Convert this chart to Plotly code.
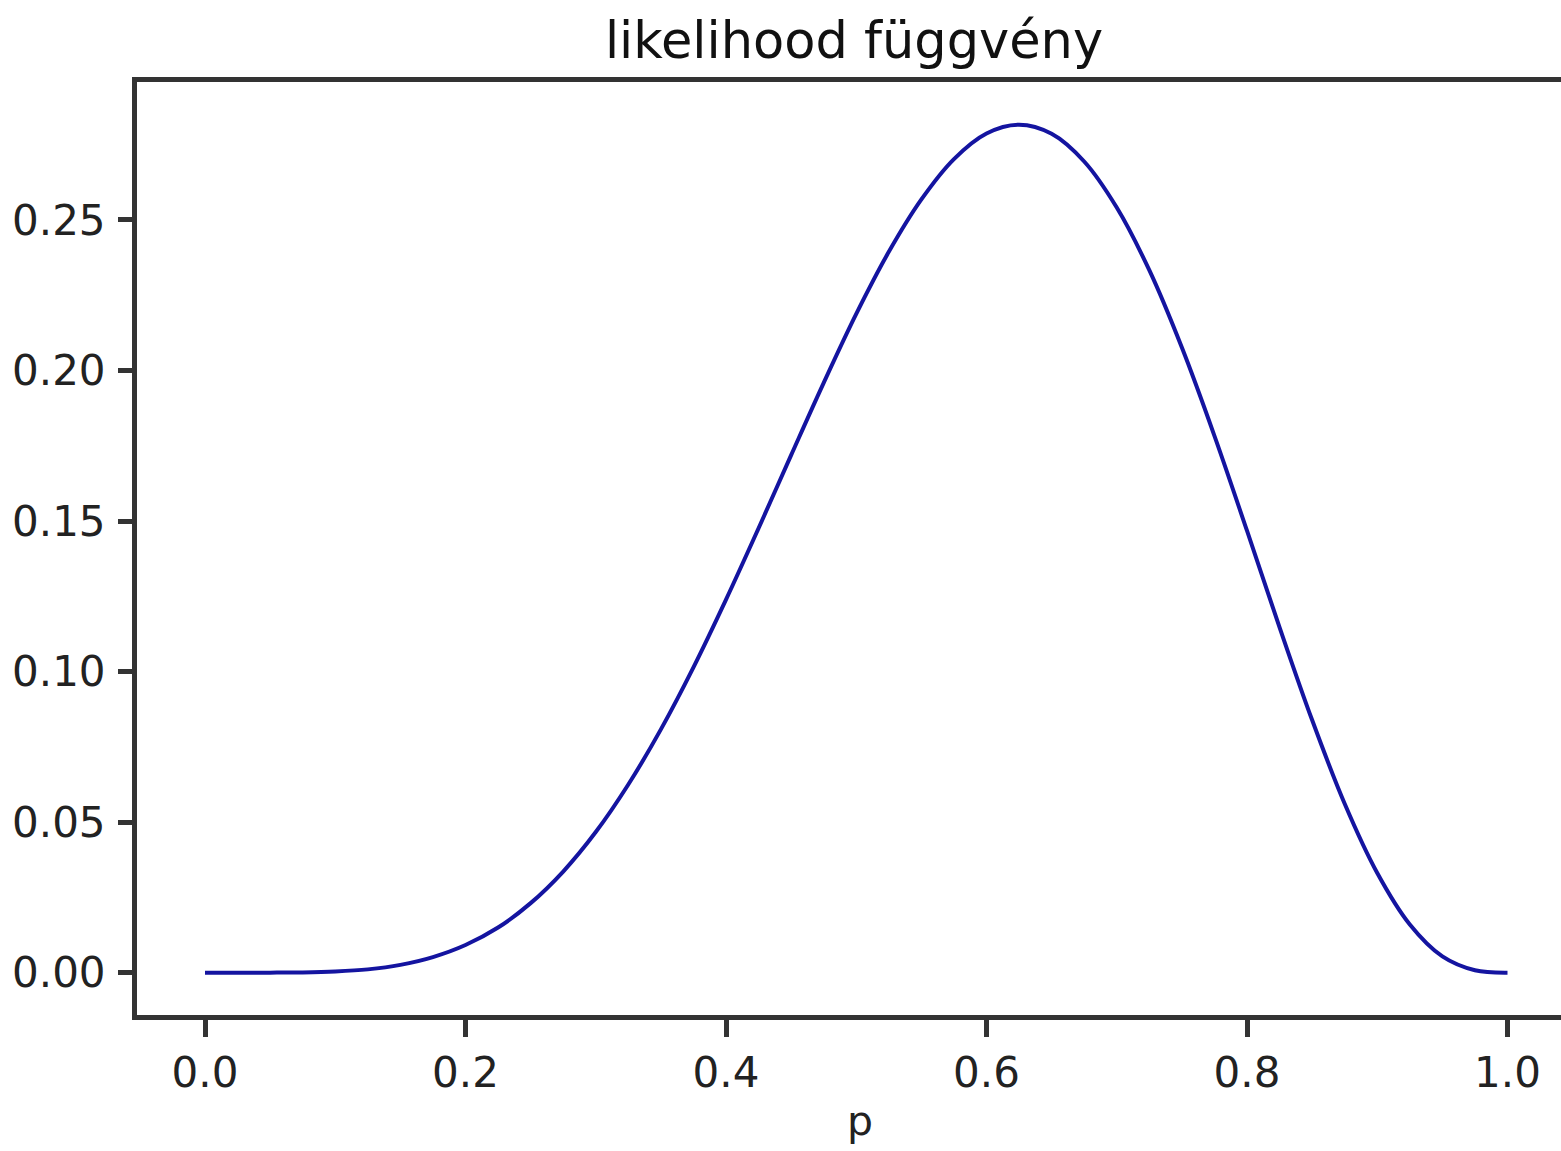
import plotly.graph_objects as go

p_values = [0.0, 0.025, 0.05, 0.075, 0.10, 0.125, 0.15, 0.175, 0.20, 0.225, 0.25,
            0.275, 0.30, 0.325, 0.35, 0.375, 0.40, 0.425, 0.45, 0.475, 0.50,
            0.525, 0.55, 0.575, 0.60, 0.625, 0.65, 0.675, 0.70, 0.725, 0.75,
            0.775, 0.80, 0.825, 0.85, 0.875, 0.90, 0.925, 0.95, 0.975, 1.0]
likelihood = [0.0, 0.0, 0.00002, 0.0001, 0.0004, 0.0011, 0.0026, 0.0052, 0.0092, 0.0150, 0.0231,
              0.0336, 0.0467, 0.0625, 0.0808, 0.1014, 0.1239, 0.1476, 0.1719, 0.1959, 0.2188,
              0.2394, 0.2568, 0.2702, 0.2787, 0.2816, 0.2786, 0.2694, 0.2541, 0.2333, 0.2076,
              0.1783, 0.1468, 0.1147, 0.0839, 0.0561, 0.0331, 0.0160, 0.0054, 0.0008, 0.0]
x_ticks = [0.0, 0.2, 0.4, 0.6, 0.8, 1.0]
x_tick_labels = ["0.0", "0.2", "0.4", "0.6", "0.8", "1.0"]
y_ticks = [0.0, 0.05, 0.10, 0.15, 0.20, 0.25]
y_tick_labels = ["0.00", "0.05", "0.10", "0.15", "0.20", "0.25"]

W, H = 1561, 1151
L, R, T, B = 137, 0, 82, 136

fig = go.Figure()
fig.add_trace(go.Scatter(x=p_values, y=likelihood, mode="lines",
                         line=dict(color="#1414a0", width=4, shape="spline", smoothing=1.0),
                         showlegend=False, hoverinfo="skip"))

font = dict(family="DejaVu Sans", color="#222222", size=42)
fig.update_layout(
    width=W, height=H,
    margin=dict(l=L, r=R, t=T, b=B, pad=0),
    paper_bgcolor="white", plot_bgcolor="white",
    font=font,
    title=dict(text="likelihood függvény", x=(854 - L) / (W - L), xanchor="center", xref="paper",
               y=1 - 40 / H, yanchor="middle", font=dict(size=51, color="#111111")),
    xaxis=dict(range=[(L - 205) / 1302.5, (W - 205) / 1302.5],
               tickvals=x_ticks, ticktext=x_tick_labels,
               showgrid=False, zeroline=False,
               showline=True, linecolor="#333333", linewidth=5, mirror=True,
               ticks="outside", ticklen=17, tickwidth=5, tickcolor="#333333",
               tickfont=font),
    yaxis=dict(range=[-0.01405, 0.2958],
               tickvals=y_ticks, ticktext=y_tick_labels,
               showgrid=False, zeroline=False,
               showline=True, linecolor="#333333", linewidth=5, mirror=False,
               ticks="outside", ticklen=14, tickwidth=5, tickcolor="#333333",
               ticklabelstandoff=4, tickfont=font),
    annotations=[dict(text="p", xref="paper", yref="paper",
                      x=(860 - L) / (W - L), y=-(1121 - (H - B)) / (H - T - B),
                      xanchor="center", yanchor="middle", showarrow=False,
                      font=dict(size=41, color="#222222"))],
)

fig.write_html("out.html")
